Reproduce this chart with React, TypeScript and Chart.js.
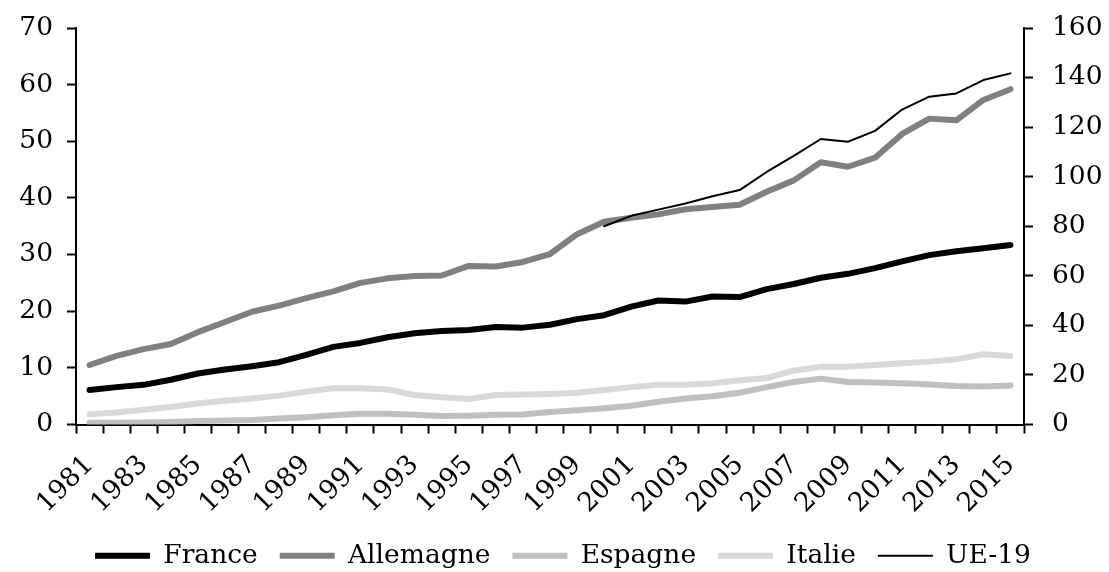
import React, { useEffect, useRef } from 'react';
import { Chart, registerables } from 'chart.js';

Chart.register(...registerables);

const years = [
  '1981', '1982', '1983', '1984', '1985', '1986', '1987', '1988', '1989', '1990',
  '1991', '1992', '1993', '1994', '1995', '1996', '1997', '1998', '1999', '2000',
  '2001', '2002', '2003', '2004', '2005', '2006', '2007', '2008', '2009', '2010',
  '2011', '2012', '2013', '2014', '2015',
];

const france = [
  6.1, 6.6, 7.0, 7.9, 9.0, 9.7, 10.3, 11.0, 12.3, 13.7,
  14.4, 15.4, 16.1, 16.5, 16.7, 17.2, 17.1, 17.6, 18.6, 19.3,
  20.8, 21.9, 21.7, 22.6, 22.5, 23.9, 24.8, 25.9, 26.6, 27.6,
  28.8, 29.9, 30.6, 31.1, 31.7,
];

const allemagne = [
  10.5, 12.1, 13.3, 14.2, 16.3, 18.1, 19.9, 21.0, 22.3, 23.5,
  25.0, 25.8, 26.2, 26.3, 28.0, 27.9, 28.7, 30.1, 33.6, 35.8,
  36.5, 37.1, 38.0, 38.4, 38.8, 41.1, 43.1, 46.3, 45.5, 47.1,
  51.3, 54.0, 53.7, 57.3, 59.2,
];

const espagne = [
  0.3, 0.3, 0.35, 0.45, 0.6, 0.7, 0.8, 1.05, 1.3, 1.65,
  1.9, 1.9, 1.7, 1.5, 1.55, 1.7, 1.75, 2.2, 2.5, 2.85,
  3.3, 4.0, 4.6, 5.0, 5.6, 6.6, 7.5, 8.1, 7.5, 7.4,
  7.3, 7.05, 6.8, 6.7, 6.9,
];

const italie = [
  1.8, 2.1, 2.6, 3.1, 3.7, 4.2, 4.6, 5.1, 5.8, 6.4,
  6.4, 6.2, 5.2, 4.8, 4.5, 5.2, 5.3, 5.4, 5.6, 6.1,
  6.6, 7.0, 7.0, 7.3, 7.8, 8.2, 9.5, 10.2, 10.2, 10.5,
  10.8, 11.1, 11.5, 12.4, 12.1,
];

const ue19 = [
  null, null, null, null, null, null, null, null, null, null,
  null, null, null, null, null, null, null, null, null, 80.0,
  84.2, 86.7, 89.2, 92.1, 94.6, 101.9, 108.4, 115.2, 114.1, 118.5,
  127.1, 132.3, 133.6, 139.0, 141.7,
];

const seriesNames = ['France', 'Allemagne', 'Espagne', 'Italie', 'UE-19'];
const leftMax = 70;
const leftStep = 10;
const rightMax = 160;
const rightStep = 20;

const FAMILY = '"DejaVu Serif", "Liberation Serif", serif';
const SIZE = 26.5;

export default function App() {
  const canvasRef = useRef<HTMLCanvasElement | null>(null);

  useEffect(() => {
    document.body.style.margin = '0';
    const canvas = canvasRef.current;
    if (!canvas) return;

    const mk = (label: string, data: (number | null)[], color: string, width: number, axis: string) => ({
      label,
      data,
      borderColor: color,
      backgroundColor: color,
      borderWidth: width,
      pointRadius: 0,
      pointHoverRadius: 0,
      borderCapStyle: 'round' as const,
      borderJoinStyle: 'round' as const,
      tension: 0,
      fill: false,
      spanGaps: false,
      yAxisID: axis,
    });

    const chart = new Chart(canvas, {
      type: 'line',
      data: {
        labels: years,
        datasets: [
          mk(seriesNames[4], ue19, '#000000', 2, 'y1'),
          mk(seriesNames[3], italie, '#d9d9d9', 6, 'y'),
          mk(seriesNames[2], espagne, '#bfbfbf', 6, 'y'),
          mk(seriesNames[1], allemagne, '#808080', 6, 'y'),
          mk(seriesNames[0], france, '#000000', 6, 'y'),
        ],
      },
      options: {
        animation: false,
        responsive: true,
        maintainAspectRatio: false,
        layout: { padding: { left: 17, right: 0, top: 28, bottom: -7 } },
        plugins: {
          tooltip: { enabled: false },
          legend: {
            position: 'bottom',
            labels: {
              usePointStyle: true,
              pointStyleWidth: 55,
              padding: 22,
              color: '#000',
              font: { family: FAMILY, size: SIZE },
              generateLabels: (c: any) => {
                const ds = c.data.datasets;
                const order = [4, 3, 2, 1, 0];
                return order.map((i) => ({
                  text: ds[i].label,
                  strokeStyle: ds[i].borderColor,
                  fillStyle: ds[i].borderColor,
                  lineWidth: ds[i].borderWidth,
                  lineCap: 'butt',
                  pointStyle: 'line',
                  hidden: false,
                  datasetIndex: i,
                  fontColor: '#000',
                }));
              },
            },
          },
        },
        scales: {
          x: {
            offset: true,
            afterFit: (s: any) => {
              s.paddingLeft = 0;
              s.paddingRight = 0;
              s.height = 96;
            },
            grid: {
              offset: true,
              drawOnChartArea: false,
              drawTicks: true,
              tickLength: 9,
              tickColor: '#000',
              tickWidth: 2,
            },
            border: { color: '#000', width: 2 },
            ticks: {
              autoSkip: false,
              minRotation: 45,
              maxRotation: 45,
              color: '#000',
              font: { family: FAMILY, size: SIZE },
              padding: 16,
              callback: (_v: any, i: number) => (i % 2 === 0 ? years[i] : ''),
            },
          },
          y: {
            position: 'left',
            min: 0,
            max: leftMax,
            afterFit: (s: any) => {
              s.width = 59;
              s.paddingTop = 0;
              s.paddingBottom = 0;
            },
            grid: { drawOnChartArea: false, tickLength: 9, tickColor: '#000', tickWidth: 2 },
            border: { color: '#000', width: 2 },
            ticks: { stepSize: leftStep, color: '#000', font: { family: FAMILY, size: SIZE }, padding: 14 },
          },
          y1: {
            position: 'right',
            min: 0,
            max: rightMax,
            afterFit: (s: any) => {
              s.width = 85;
              s.paddingTop = 0;
              s.paddingBottom = 0;
            },
            grid: { drawOnChartArea: false, tickLength: 9, tickColor: '#000', tickWidth: 2 },
            border: { color: '#000', width: 2 },
            ticks: { stepSize: rightStep, color: '#000', font: { family: FAMILY, size: SIZE }, padding: 19 },
          },
        },
      },
    });

    return () => chart.destroy();
  }, []);

  return (
    <div style={{ position: 'relative', width: '1109px', height: '572px' }}>
      <canvas ref={canvasRef} />
    </div>
  );
}
